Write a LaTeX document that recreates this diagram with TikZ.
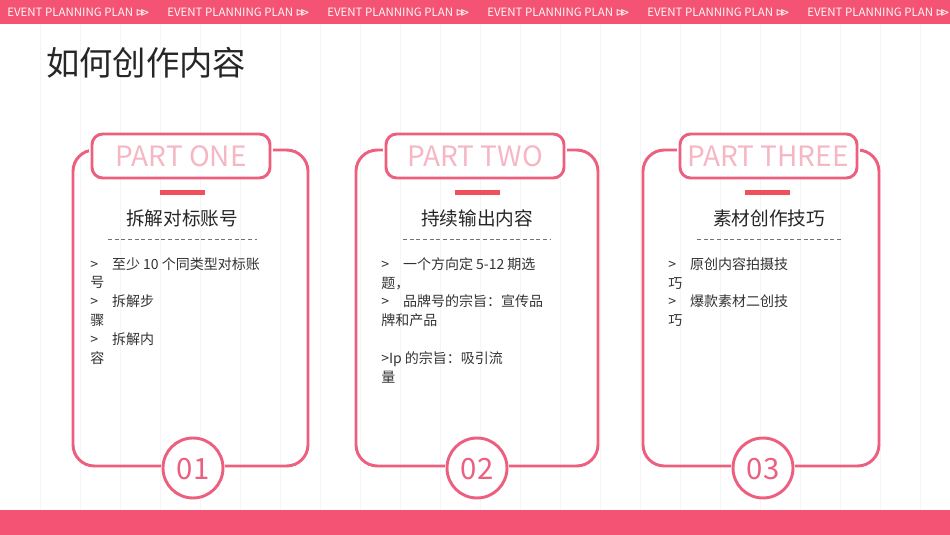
\documentclass[tikz,border=0pt]{standalone}
\usepackage{fontspec}
\setmainfont{Noto Sans CJK SC}
\newfontfamily\sym{DejaVu Sans}
\begin{document}
\begin{tikzpicture}[x=0.75pt,y=-0.75pt,
  pinkline/.style={draw=pk,line width=2.2pt},
  body/.style={anchor=north west,align=left,font=\fontsize{10.5}{14.2}\selectfont,text=black!80,inner sep=0pt},
  heading/.style={font=\fontsize{14}{16}\selectfont,text=black!85},
  parttxt/.style={font=\fontsize{21}{24}\selectfont,text=pk!45},
  num/.style={font=\fontsize{22}{24}\selectfont,text=pk},
  bar/.style={fill=rb,draw=none},
  dline/.style={draw=black!55,densely dashed,line width=0.4pt}]
\definecolor{pk}{HTML}{EC5F7F}
\definecolor{band}{HTML}{F45374}
\definecolor{rb}{HTML}{F0505A}
\useasboundingbox (0,0) rectangle (950,535);
\fill[white] (0,0) rectangle (950,535);
\foreach \x in {40,80,...,940} \draw[black!4,line width=0.3pt] (\x,24) -- (\x,510);
\fill[band] (0,0) rectangle (950,24);
\fill[band] (0,510) rectangle (950,535);
\foreach \i in {0,...,5}
  \node[anchor=west,inner sep=0pt,text=white!85!pink,font=\fontsize{8.6}{10}\selectfont] (b\i) at (7+160*\i,12) {EVENT PLANNING PLAN {\sym ⊳}\kern-0.45em{\sym ⊳}};
\node[anchor=west,inner sep=0pt,font=\fontsize{25}{28}\selectfont,text=black!85] (title) at (46,63) {如何创作内容};
% cards
\foreach \n/\l/\r/\bl/\br/\cx in {1/73/308/92/270/193, 2/356/598/386/564/477, 3/643/879/680/857/763}{
  \draw[pinkline,rounded corners=16] (\l,150) rectangle (\r,466);
  \fill[white] (\bl-3,140) rectangle (\br+3,172);
  \draw[pinkline,fill=white,rounded corners=8] (\bl,134) rectangle (\br,178);
  \fill[white] (\cx,468) circle (32);
  \draw[pinkline,fill=white] (\cx,468) circle (30);
}
\node[parttxt] (p1) at (181,156) {PART ONE};
\node[parttxt] (p2) at (475,156) {PART TWO};
\node[parttxt] (p3) at (768,156) {PART THREE};
\node[num] (n1) at (193,469) {01};
\node[num] (n2) at (477,469) {02};
\node[num] (n3) at (763,469) {03};
\fill[bar] (160,190) rectangle (205,195);
\fill[bar] (455,190) rectangle (500,195);
\fill[bar] (745,190) rectangle (790,195);
\node[heading] (h1) at (182,218) {拆解对标账号};
\node[heading] (h2) at (477,218) {持续输出内容};
\node[heading] (h3) at (769,218) {素材创作技巧};
\draw[dline] (108,239) -- (257,239);
\draw[dline] (403,239) -- (550,239);
\draw[dline] (697,239) -- (842,239);
\node[body] (t1) at (90,257) {>\quad 至少 10 个同类型对标账\\号\\>\quad 拆解步\\骤\\>\quad 拆解内\\容};
\node[body] (t2) at (381,257) {>\quad 一个方向定 5-12 期选\\题，\\>\quad 品牌号的宗旨：宣传品\\牌和产品\\\\>Ip 的宗旨：吸引流\\量};
\node[body] (t3) at (668,257) {>\quad 原创内容拍摄技\\巧\\>\quad 爆款素材二创技\\巧};
\end{tikzpicture}
\end{document}
